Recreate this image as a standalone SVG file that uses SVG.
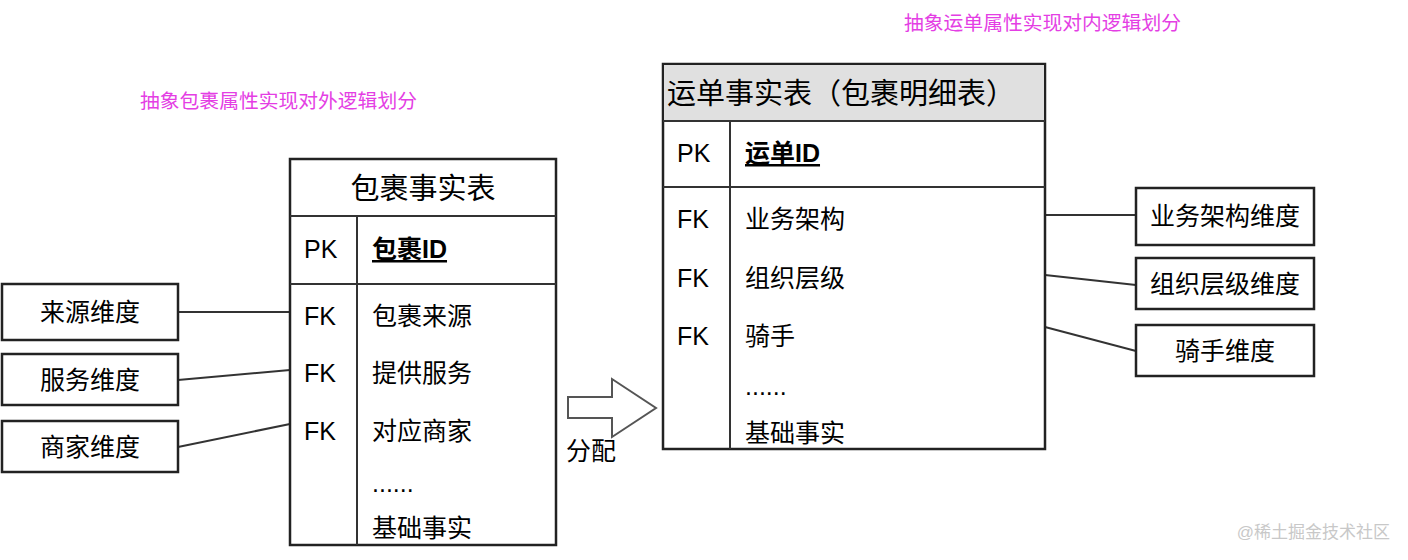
<svg xmlns="http://www.w3.org/2000/svg" width="1408" height="560" viewBox="0 0 1408 560">
<style>
text{font-family:"Liberation Sans","Noto Sans CJK SC",sans-serif;fill:#000}
.b{fill:#fff;stroke:#222;stroke-width:2.5}
.l{stroke:#333;stroke-width:2;fill:none}
.t{font-size:25px}
.h{font-size:29px}
.p{font-size:19.8px;fill:#e43ee4}
.c{text-anchor:middle}
</style>
<rect width="1408" height="560" fill="#fff"/>
<text class="p" x="140" y="108">抽象包裹属性实现对外逻辑划分</text>
<text class="p" x="904" y="30">抽象运单属性实现对内逻辑划分</text>
<g id="connectors">
<line class="l" x1="178" y1="312" x2="290" y2="312"/>
<line class="l" x1="178" y1="380" x2="290" y2="370"/>
<line class="l" x1="178" y1="447" x2="290" y2="424"/>
<line class="l" x1="1045" y1="215" x2="1136" y2="215"/>
<line class="l" x1="1045" y1="275" x2="1136" y2="285"/>
<line class="l" x1="1045" y1="327" x2="1136" y2="351"/>
<polygon points="568,397 612,397 612,379 656,408 612,437 612,418 568,418" fill="#fff" stroke="#555" stroke-width="2"/>
<text class="t" x="566" y="460">分配</text>
</g>
<g id="pkg">
<rect class="b" x="290" y="159" width="266" height="386"/>
<line class="l" x1="290" y1="216" x2="556" y2="216"/>
<line class="l" x1="290" y1="284" x2="556" y2="284"/>
<line class="l" x1="357" y1="216" x2="357" y2="545"/>
<text class="h c" x="423" y="199">包裹事实表</text>
<text class="t" x="304" y="258">PK</text>
<text class="t" x="372" y="258" font-weight="bold" text-decoration="underline">包裹ID</text>
<text class="t" x="304" y="325">FK</text><text class="t" x="372" y="325">包裹来源</text>
<text class="t" x="304" y="382">FK</text><text class="t" x="372" y="382">提供服务</text>
<text class="t" x="304" y="440">FK</text><text class="t" x="372" y="440">对应商家</text>
<text class="t" x="372" y="492">......</text>
<text class="t" x="372" y="537">基础事实</text>
</g>
<g id="waybill">
<rect class="b" x="663" y="64" width="382" height="385"/>
<rect x="664" y="65" width="380" height="56" fill="#e0e0e0"/>
<line class="l" x1="663" y1="121" x2="1045" y2="121"/>
<line class="l" x1="663" y1="187" x2="1045" y2="187"/>
<line class="l" x1="730" y1="121" x2="730" y2="449"/>
<text class="h" x="667" y="104">运单事实表（包裹明细表）</text>
<text class="t" x="677" y="162">PK</text>
<text class="t" x="745" y="162" font-weight="bold" text-decoration="underline">运单ID</text>
<text class="t" x="677" y="228">FK</text><text class="t" x="745" y="228">业务架构</text>
<text class="t" x="677" y="287">FK</text><text class="t" x="745" y="287">组织层级</text>
<text class="t" x="677" y="345">FK</text><text class="t" x="745" y="345">骑手</text>
<text class="t" x="745" y="395">......</text>
<text class="t" x="745" y="442">基础事实</text>
</g>
<g id="d1"><rect class="b" x="2" y="284" width="176" height="56"/><text class="t c" x="90" y="321">来源维度</text></g>
<g id="d2"><rect class="b" x="2" y="354" width="176" height="51"/><text class="t c" x="90" y="389">服务维度</text></g>
<g id="d3"><rect class="b" x="2" y="421" width="176" height="51"/><text class="t c" x="90" y="456">商家维度</text></g>
<g id="d4"><rect class="b" x="1136" y="188" width="178" height="57"/><text class="t c" x="1225" y="225">业务架构维度</text></g>
<g id="d5"><rect class="b" x="1136" y="258" width="178" height="51"/><text class="t c" x="1225" y="293">组织层级维度</text></g>
<g id="d6"><rect class="b" x="1136" y="325" width="178" height="51"/><text class="t c" x="1225" y="360">骑手维度</text></g>
<text x="1390" y="538" font-size="17" style="fill:#c8c8c8" text-anchor="end">@稀土掘金技术社区</text>
</svg>
